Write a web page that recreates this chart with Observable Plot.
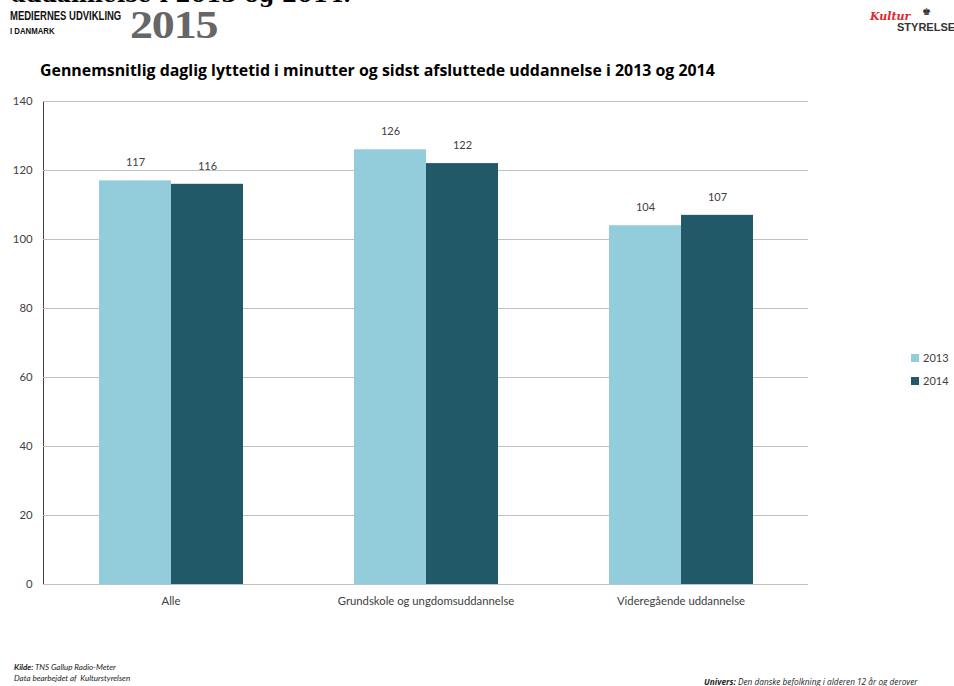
<!DOCTYPE html>
<html><head><meta charset="utf-8">
<script src="https://cdn.jsdelivr.net/npm/d3@7"></script>
<script src="https://cdn.jsdelivr.net/npm/@observablehq/plot@0.6"></script>
<style>
body{margin:0;background:#fff;width:954px;height:686px;overflow:hidden;position:relative;font-family:Lato,"Open Sans",sans-serif}
.abs{position:absolute;white-space:nowrap}
#chart{position:absolute;left:0;top:90px}
</style></head><body>
<div class="abs" style="left:10px;top:-19px;font:bold 22px 'DejaVu Serif',serif;color:#000">uddannelse i 2013 og 2014.</div>
<div class="abs" style="left:10px;top:8px;font:bold 13px 'Liberation Sans',Arial,sans-serif;color:#111;transform:scaleX(0.73);transform-origin:left top">MEDIERNES UDVIKLING</div>
<div class="abs" style="left:10px;top:25px;font:bold 9.5px 'Liberation Sans',Arial,sans-serif;color:#111;transform:scaleX(0.82);transform-origin:left top">I DANMARK</div>
<div class="abs" style="left:130px;top:1px;font:bold 40px 'Liberation Serif',serif;color:#666;letter-spacing:-1px;transform:scaleX(1.15);transform-origin:left top">2015</div>
<div class="abs" style="left:870px;top:10px;font:italic bold 11px 'DejaVu Serif',serif;color:#e3262b">Kultur</div>
<div class="abs" style="left:922px;top:6px;font:10px 'DejaVu Sans';color:#222">♚</div>
<div class="abs" style="left:897px;top:21px;font:bold 11px 'Liberation Sans',Arial,sans-serif;color:#333">STYRELSEN</div>
<div class="abs" style="left:40px;top:59px;font:bold 15.9px 'Open Sans',sans-serif;color:#000">Gennemsnitlig daglig lyttetid i minutter og sidst afsluttede uddannelse i 2013 og 2014</div>
<div id="chart"></div>
<div class="abs" style="left:911px;top:354px;width:8px;height:8px;background:#93cddb"></div>
<div class="abs" style="left:923px;top:351px;font:11px Lato,sans-serif;color:#404040">2013</div>
<div class="abs" style="left:911px;top:377px;width:8px;height:8px;background:#215968"></div>
<div class="abs" style="left:923px;top:374px;font:11px Lato,sans-serif;color:#404040">2014</div>
<div class="abs" style="left:14px;top:662px;font:italic 8px Lato,sans-serif;color:#222"><b>Kilde:</b> TNS Gallup Radio-Meter</div>
<div class="abs" style="left:14px;top:673px;font:italic 8px Lato,sans-serif;color:#222">Data bearbejdet af&nbsp; Kulturstyrelsen</div>
<div class="abs" style="left:704px;top:675px;font:italic 9.2px 'Open Sans',sans-serif;color:#222;transform:scaleX(0.9);transform-origin:left top"><b>Univers:</b> Den danske befolkning i alderen 12 år og derover</div>
<script>
const groups = ["Alle", "Grundskole og ungdomsuddannelse", "Videregående uddannelse"];
const years = ["2013", "2014"];
const values2013 = [117, 126, 104];
const values2014 = [116, 122, 107];
const yTicks = [0, 20, 40, 60, 80, 100, 120, 140];
const colors = ["#93cddb", "#215968"];

const data = [];
groups.forEach((g, i) => {
  data.push({group: g, year: years[0], value: values2013[i]});
  data.push({group: g, year: years[1], value: values2014[i]});
});

const chart = Plot.plot({
  width: 954,
  height: 530,
  marginLeft: 43,
  marginRight: 146,
  marginTop: 11,
  marginBottom: 36,
  style: {fontFamily: "Lato, 'Open Sans', sans-serif", fontSize: "11.3px", color: "#404040", background: "#fff"},
  fx: {domain: groups, padding: 0, label: null, axis: "bottom", tickSize: 0, tickPadding: 12},
  x: {domain: years, axis: null, paddingInner: 0, paddingOuter: 0.76},
  y: {domain: [0, 140], ticks: yTicks, label: null, tickSize: 0, tickPadding: 11, line: true},
  color: {domain: years, range: colors},
  marks: [
    Plot.ruleY(yTicks, {stroke: "#c0c0c0", strokeWidth: 1}),
    Plot.barY(data, {fx: "group", x: "year", y: "value", fill: "year"}),
    Plot.text(data, {fx: "group", x: "year", y: "value", text: d => String(d.value), dy: -18, fill: "#404040", fontSize: 11}),
    Plot.ruleY([0], {stroke: "#c0c0c0"})
  ]
});
document.getElementById("chart").appendChild(chart);
</script>
</body></html>
